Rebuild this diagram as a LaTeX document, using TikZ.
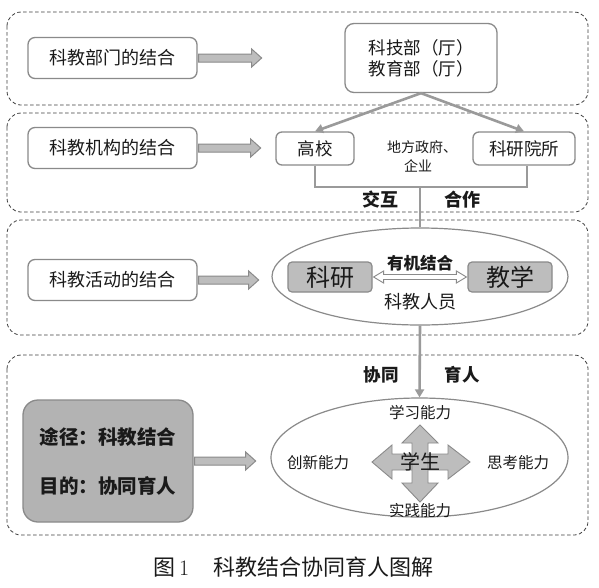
\documentclass[tikz,border=0pt]{standalone}
\usepackage{fontspec}
\setmainfont{Noto Sans CJK SC}
\newfontfamily\lmr{Latin Modern Roman}
\usetikzlibrary{arrows.meta,shapes.geometric,calc}
\definecolor{txt}{HTML}{1A1A1A}
\definecolor{edge}{HTML}{8A8A8A}
\definecolor{boxfill}{HTML}{BDBDBD}
\definecolor{darkfill}{HTML}{B3B3B3}
\definecolor{conn}{HTML}{9A9A9A}
\tikzset{
  panel/.style={draw=black!75, line width=0.8pt, dash pattern=on 3.5pt off 2.5pt, rounded corners=14pt},
  lbox/.style={draw=edge, line width=1.3pt, rounded corners=7pt, fill=white, text=txt, font=\fontsize{18}{21}\selectfont, minimum width=169pt, minimum height=41pt, inner sep=0pt},
  wbox/.style={draw=edge, line width=1.3pt, rounded corners=6pt, fill=white, text=txt, font=\fontsize{17.5}{21}\selectfont, inner sep=0pt},
  gbox/.style={draw=edge, line width=1.2pt, rounded corners=4pt, fill=boxfill, text=txt, font=\fontsize{24}{28}\selectfont, minimum width=84pt, minimum height=30pt, inner sep=0pt},
  oval/.style={ellipse, draw=edge, line width=1.2pt, inner sep=0pt},
  blockarr/.style={fill=boxfill, draw=edge, line width=1pt, line join=miter},
  connline/.style={draw=conn, line width=2.6pt},
  connarr/.style={draw=conn, line width=2.6pt, -{Triangle[length=8pt,width=9pt]}},
  lbl/.style={text=txt, inner sep=0pt},
}
\begin{document}
\begin{tikzpicture}[x=1pt,y=-1pt]
\useasboundingbox (0,0) rectangle (599,587);
\fill[white] (0,0) rectangle (599,587);

% panels
\draw[panel] (7,12) rectangle (588,105);
\draw[panel] (7,113) rectangle (588,212);
\draw[panel] (7,220) rectangle (588,335);
\draw[panel] (7,355) rectangle (588,535);

% left boxes
\node[lbox] (b1) at (112.5,58) {科教部门的结合};
\node[lbox] (b2) at (112.5,148) {科教机构的结合};
\node[lbox] (b3) at (112.5,280) {科教活动的结合};
\node[draw=edge, line width=1.3pt, rounded corners=15pt, fill=darkfill, text=txt,
      minimum width=170pt, minimum height=122pt, inner sep=0pt,
      font=\bfseries\fontsize{19.5}{23}\selectfont, align=center] (b4) at (108,461)
      {途径：科教结合\\[26pt]目的：协同育人};

% block arrows
\draw[blockarr] ($(b1.east)+(1,-4)$) -- ++(53,0) -- ++(0,-5) -- ++(10,9) -- ++(-10,9) -- ++(0,-5) -- ++(-53,0) -- cycle;
\draw[blockarr] ($(b2.east)+(1,-4)$) -- ++(52,0) -- ++(0,-5) -- ++(10,9) -- ++(-10,9) -- ++(0,-5) -- ++(-52,0) -- cycle;
\draw[blockarr] ($(b3.east)+(1,-4)$) -- ++(50,0) -- ++(0,-5) -- ++(10,9) -- ++(-10,9) -- ++(0,-5) -- ++(-50,0) -- cycle;
\draw[blockarr] ($(b4.east)+(1,-4)$) -- ++(51,0) -- ++(0,-5) -- ++(10,9) -- ++(-10,9) -- ++(0,-5) -- ++(-51,0) -- cycle;

% top right
\node[wbox, rounded corners=9pt, minimum width=152pt, minimum height=69pt, align=center] (top) at (421,58)
  {科技部（厅）\\教育部（厅）};
\node[wbox, minimum width=78pt, minimum height=33pt] (gx) at (315,148.5) {高校};
\node[wbox, minimum width=102pt, minimum height=33pt] (ky) at (524,148.5) {科研院所};
\node[lbl, font=\fontsize{14}{16}\selectfont] (dfzf) at (422,147) {地方政府、};
\node[lbl, font=\fontsize{14}{16}\selectfont] (qy) at (418,165.5) {企业};

\draw[connarr] (top.south) -- (gx.north);
\draw[connarr] (top.south) -- (ky.north);

% bracket
\coordinate (brL) at (315,187);
\coordinate (brR) at (527,187);
\coordinate (brM) at (420,187);
\draw[connline, line join=miter] (gx.south) -- (brL) -- (brR) -- (ky.south -| brR);
\node[lbl, font=\bfseries\fontsize{18}{21}\selectfont] (jh) at (380,200) {交互};
\node[lbl, font=\bfseries\fontsize{18}{21}\selectfont] (hz) at (462,200) {合作};

% ellipse 3
\node[oval, minimum width=296pt, minimum height=97pt] (e3) at (420,276.5) {};
\draw[connline] (brM) -- (e3.north);
\node[gbox] (ky2) at (330,277) {科研};
\node[gbox] (jx) at (510,277) {教学};
\draw[fill=white, draw=edge, line width=0.9pt, line join=miter]
  ($(ky2.east)+(1,0)$) -- ++(10,-6) -- ++(0,3.5) -- ($(jx.west)+(-11,-2.5)$) -- ++(0,-3.5) -- ++(10,6)
  -- ++(-10,6) -- ++(0,-3.5) -- ($(ky2.east)+(11,2.5)$) -- ++(0,3.5) -- cycle;
\node[lbl, font=\bfseries\fontsize{16.5}{19}\selectfont] (yj) at (420,263) {有机结合};
\node[lbl, font=\fontsize{18}{21}\selectfont] (kjry) at (420,302) {科教人员};

% ellipse 4
\node[oval, minimum width=297pt, minimum height=119pt] (e4) at (419.5,457.5) {};
\draw[connarr] (e3.south) -- (e4.north);
\node[lbl, font=\bfseries\fontsize{17.5}{21}\selectfont] (xt) at (381,375) {协同};
\node[lbl, font=\bfseries\fontsize{17.5}{21}\selectfont] (yr) at (462,375) {育人};

% four-way arrow
\coordinate (c4) at (420,462);
\draw[fill=boxfill, draw=edge, line width=0.9pt, line join=miter, shift={(c4)}]
  (-48,0) -- (-28,-17) -- (-28,-8) -- (28,-8) -- (28,-17) -- (50,0) -- (28,17) -- (28,8) -- (-28,8) -- (-28,17) -- cycle;
\draw[fill=boxfill, draw=edge, line width=0.9pt, line join=miter, shift={(c4)}]
  (0,-37) -- (18,-19) -- (8,-19) -- (8,21) -- (18,21) -- (0,40) -- (-18,21) -- (-8,21) -- (-8,-19) -- (-18,-19) -- cycle;
\node[lbl, font=\fontsize{20}{24}\selectfont] (xs) at (c4) {学生};
\node[lbl, font=\fontsize{15.5}{18}\selectfont] (xx) at (420,413) {学习能力};
\node[lbl, font=\fontsize{15.5}{18}\selectfont] (sj) at (420,511) {实践能力};
\node[lbl, font=\fontsize{15.5}{18}\selectfont] (cx) at (318,463) {创新能力};
\node[lbl, font=\fontsize{15.5}{18}\selectfont] (sk) at (518,463) {思考能力};

% caption
\node[lbl, anchor=west, font=\fontsize{22}{26}\selectfont] (cap) at (153,567) {图\hspace{4pt}{\lmr 1}\hspace{24pt}科教结合协同育人图解};
\end{tikzpicture}
\end{document}
